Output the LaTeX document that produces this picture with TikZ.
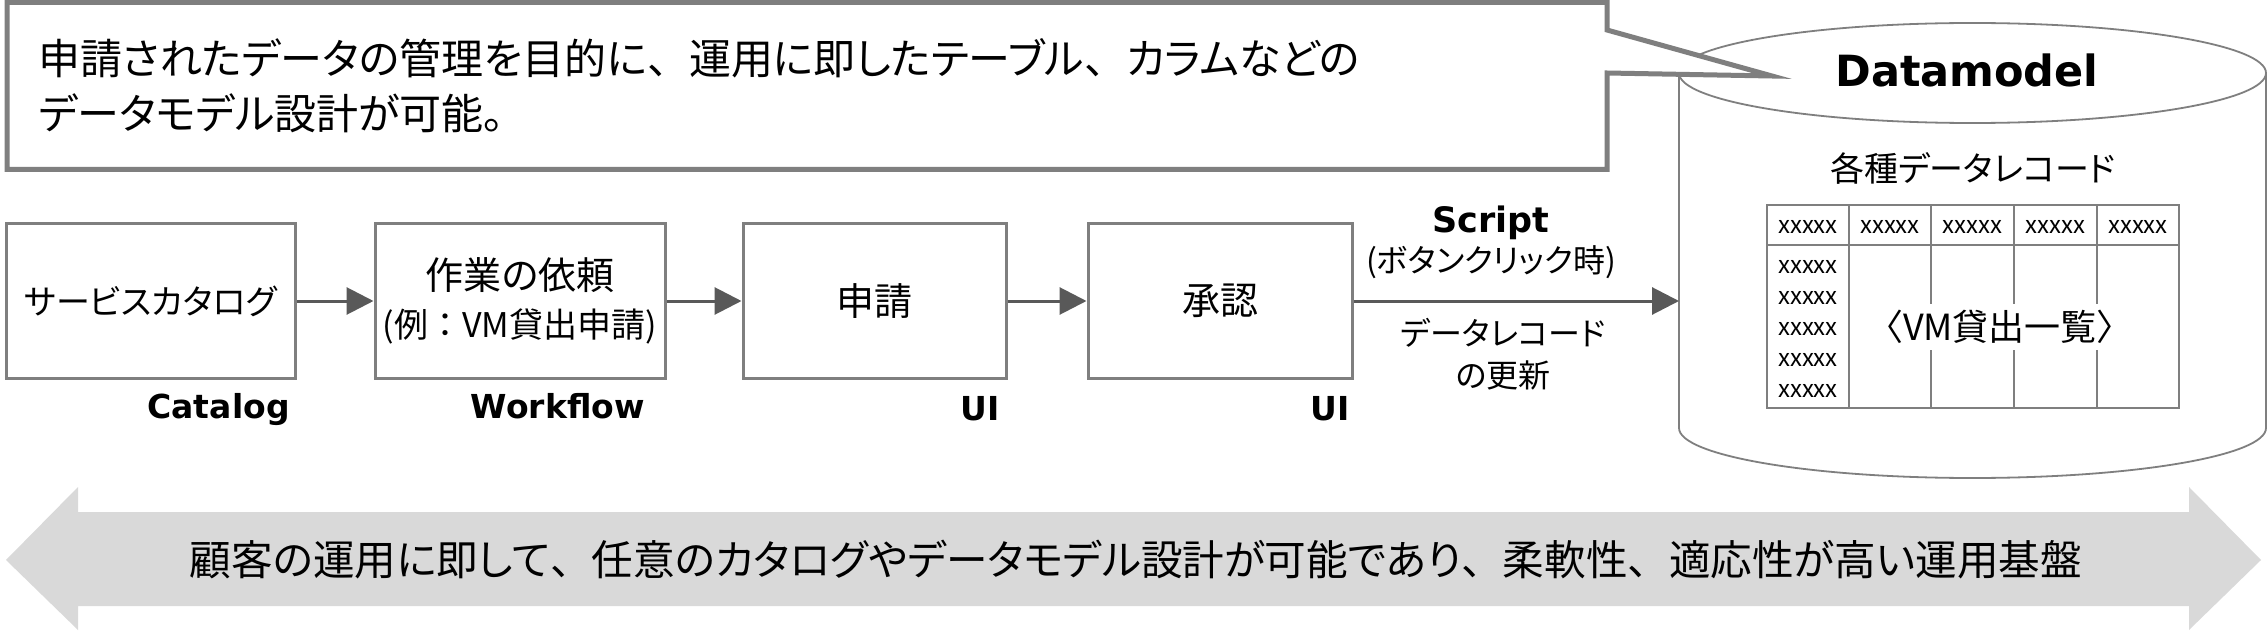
\documentclass[tikz,border=0pt]{standalone}
\usepackage{fontspec}
\setmainfont{Noto Sans CJK JP}[RawFeature=+palt]
\newfontfamily\jpfull{Noto Sans CJK JP}
\newfontfamily\lblfont{DejaVu Sans}
\newcommand\zp[1]{{\jpfull #1}}
\usetikzlibrary{arrows.meta}
\definecolor{linegray}{HTML}{7F7F7F}
\definecolor{arrowgray}{HTML}{595959}
\definecolor{bandgray}{HTML}{D9D9D9}

\begin{document}
\begin{tikzpicture}[x=0.5pt, y=-0.5pt,
		every node/.style = {inner sep=0pt, text=black},
		stepbox/.style = {draw=linegray, line width=1.5pt, fill=white,
			minimum height=77pt, align=center, font=\fontsize{19}{23}\selectfont},
		flow/.style = {draw=arrowgray, line width=1.5pt,
			-{Triangle[length=13.5pt, width=13.5pt]}},
		tag/.style = {anchor=base east, font=\lblfont\bfseries\fontsize{16.5}{20}\selectfont},
		cell/.style = {font=\fontsize{12}{14}\selectfont},
		dbline/.style = {draw=linegray, line width=0.9pt},
		grid/.style = {draw=linegray, line width=1.3pt}]
	\useasboundingbox (0,0) rectangle (2267,631);

	\draw[dbline, fill=white] (1679,73) -- (1679,428)
		arc[start angle=180, end angle=0, x radius=293.5, y radius=50] -- (2266,73);
	\draw[dbline] (1972.5,73) ellipse [x radius=293.5, y radius=50];
	\node[font=\lblfont\bfseries\fontsize{21.5}{25}\selectfont] (dmtitle) at (1967,70) {Datamodel};
	\node[font=\fontsize{17}{20}\selectfont] (records) at (1973,168) {各種データレコード};

	\draw[grid] (1767,205) rectangle (2179,408);
	\draw[grid] (1767,245) -- (2179,245);
	\foreach \vx in {1849,1931,2014,2097}
		\draw[grid] (\vx,205) -- (\vx,408);
	\foreach \cx [count=\i] in {1808,1890,1972.5,2055.5,2138}
		\node[cell] (head\i) at (\cx,227) {xxxxx};
	\foreach \ry [count=\i] in {267,298,329,360,391}
		\node[cell] (row\i) at (1808,\ry) {xxxxx};
	\node[fill=white, inner ysep=3pt, font=\fontsize{18}{20}\selectfont] (vmlist) at (2000,327) {〈VM貸出一覧〉};

	\draw[draw=linegray, line width=2.5pt, fill=white] (7,2.5) -- (1607,2.5) -- (1607,30)
		-- (1772,76) -- (1607,73) -- (1607,169.5) -- (7,169.5) -- cycle;
	\node[anchor=west, align=left, font=\fontsize{21}{27.5}\selectfont] (note) at (38,86)
		{申請されたデータの管理を目的に\zp{、}運用に即したテーブル\zp{、}カラムなどの\\データモデル設計が可能\zp{。}};

	\node[stepbox, minimum width=144.5pt, font=\fontsize{17}{21}\selectfont] (catalog) at (150.5,301) {サービスカタログ};
	\node[stepbox, minimum width=145pt] (order) at (520,301)
		{作業の依頼\\[1pt]\fontsize{17}{20}\selectfont(例\zp{：}VM貸出申請)};
	\node[stepbox, minimum width=131.5pt] (apply) at (874.5,301) {申請};
	\node[stepbox, minimum width=132pt] (approve) at (1220,301) {承認};
	\coordinate (dbin) at (1679,301);

	\node[tag] (tagcat) at (290,418) {Catalog};
	\node[tag] (tagwf) at (645,418) {Workflow};
	\node[tag] (tagui1) at (1000,420) {UI};
	\node[tag] (tagui2) at (1350,420) {UI};

	\draw[flow] (catalog) -- (order);
	\draw[flow] (order) -- (apply);
	\draw[flow] (apply) -- (approve);
	\draw[flow] (approve) -- (dbin);

	\node[font=\lblfont\bfseries\fontsize{17.5}{20}\selectfont] (script) at (1491,223) {Script};
	\node[font=\fontsize{16}{19}\selectfont] (trigger) at (1491,262) {(ボタンクリック時)};
	\node[align=center, font=\fontsize{16}{21}\selectfont] (update) at (1503,354) {データレコード\\の更新};

	\fill[bandgray] (6,560) -- (78,487) -- (78,512) -- (2189,512) -- (2189,487) -- (2261,560)
		-- (2189,630) -- (2189,606) -- (78,606) -- (78,630) -- cycle;
	\node[font=\fontsize{20.8}{26}\selectfont] (band) at (1136,560)
		{顧客の運用に即して\zp{、}任意のカタログやデータモデル設計が可能であり\zp{、}柔軟性\zp{、}適応性が高い運用基盤};
\end{tikzpicture}
\end{document}
